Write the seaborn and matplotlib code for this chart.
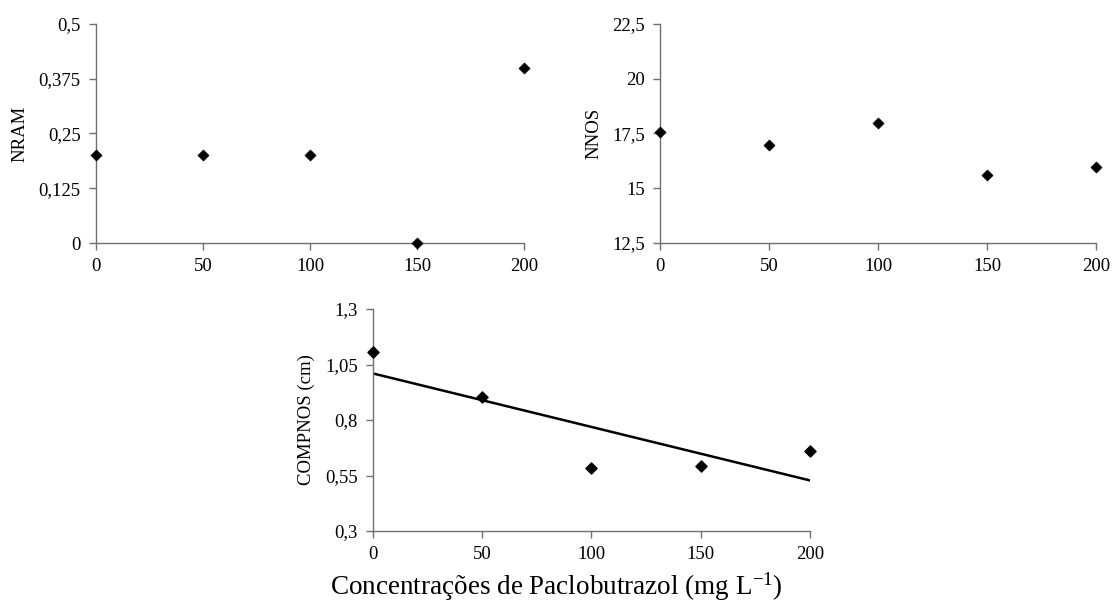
import matplotlib
matplotlib.use("Agg")
import matplotlib.pyplot as plt
import seaborn as sns
import numpy as np
import pandas as pd
from matplotlib.ticker import FuncFormatter

conc = [0, 50, 100, 150, 200]
nram = [0.2, 0.2, 0.2, 0.0, 0.4]
nnos = [17.55, 16.97, 17.97, 15.6, 15.97]
compnos = [1.105, 0.904, 0.585, 0.591, 0.659]

x_ticks = [0, 50, 100, 150, 200]
nram_ticks = [0, 0.125, 0.25, 0.375, 0.5]
nnos_ticks = [12.5, 15, 17.5, 20, 22.5]
compnos_ticks = [0.3, 0.55, 0.8, 1.05, 1.3]

sns.set_theme(style="white")
plt.rcParams['font.family'] = ['Liberation Serif', 'DejaVu Serif']
plt.rcParams['mathtext.fontset'] = 'custom'
plt.rcParams['mathtext.rm'] = 'Liberation Serif'
plt.rcParams['mathtext.it'] = 'Liberation Serif:italic'
plt.rcParams['mathtext.default'] = 'rm'

fig = plt.figure(figsize=(11.12, 6.10), dpi=100)
ax1 = fig.add_axes([0.0863, 0.6016, 0.4712 - 0.0863, 0.9607 - 0.6016])
ax2 = fig.add_axes([0.5935, 0.6016, 0.9856 - 0.5935, 0.9607 - 0.6016])
ax3 = fig.add_axes([0.3354, 0.1295, 0.7284 - 0.3354, 0.4934 - 0.1295])

comma = FuncFormatter(lambda v, p: ('%g' % v).replace('.', ','))

df = pd.DataFrame({'conc': conc, 'NRAM': nram, 'NNOS': nnos, 'COMPNOS': compnos})

def style(ax, yticks, ylabel):
    ax.set_xlim(0, 200)
    ax.set_ylim(yticks[0], yticks[-1])
    ax.set_xticks(x_ticks)
    ax.set_yticks(yticks)
    ax.yaxis.set_major_formatter(comma)
    ax.xaxis.set_major_formatter(comma)
    for s in ['top', 'right']:
        ax.spines[s].set_visible(False)
    for s in ['left', 'bottom']:
        ax.spines[s].set_color('#707070')
        ax.spines[s].set_linewidth(1.0)
    ax.tick_params(axis='both', which='major', direction='out', length=5, width=1.0,
                   color='#707070', labelsize=13.5, labelcolor='black', pad=6,
                   left=True, bottom=True)
    ax.set_ylabel(ylabel, fontsize=13.5, color='black', labelpad=7)
    ax.set_xlabel('')
    ax.set_facecolor('white')

sns.scatterplot(data=df, x='conc', y='NRAM', ax=ax1, marker='D', s=32, color='black',
                edgecolor='black', clip_on=False, zorder=5)
style(ax1, nram_ticks, 'NRAM')

sns.scatterplot(data=df, x='conc', y='NNOS', ax=ax2, marker='D', s=32, color='black',
                edgecolor='black', clip_on=False, zorder=5)
style(ax2, nnos_ticks, 'NNOS')

sns.regplot(data=df, x='conc', y='COMPNOS', ax=ax3, ci=None, truncate=True, marker='D',
            scatter_kws=dict(s=32, color='black', alpha=1, clip_on=False, zorder=5),
            line_kws=dict(color='black', linewidth=1.8))
style(ax3, compnos_ticks, 'COMPNOS (cm)')

fig.text(0.5, 0.038, 'Concentrações de Paclobutrazol (mg L$^{-1}$)', ha='center',
         va='center', fontsize=19.5, color='black')

fig.savefig('out.png', dpi=100, facecolor='white')
